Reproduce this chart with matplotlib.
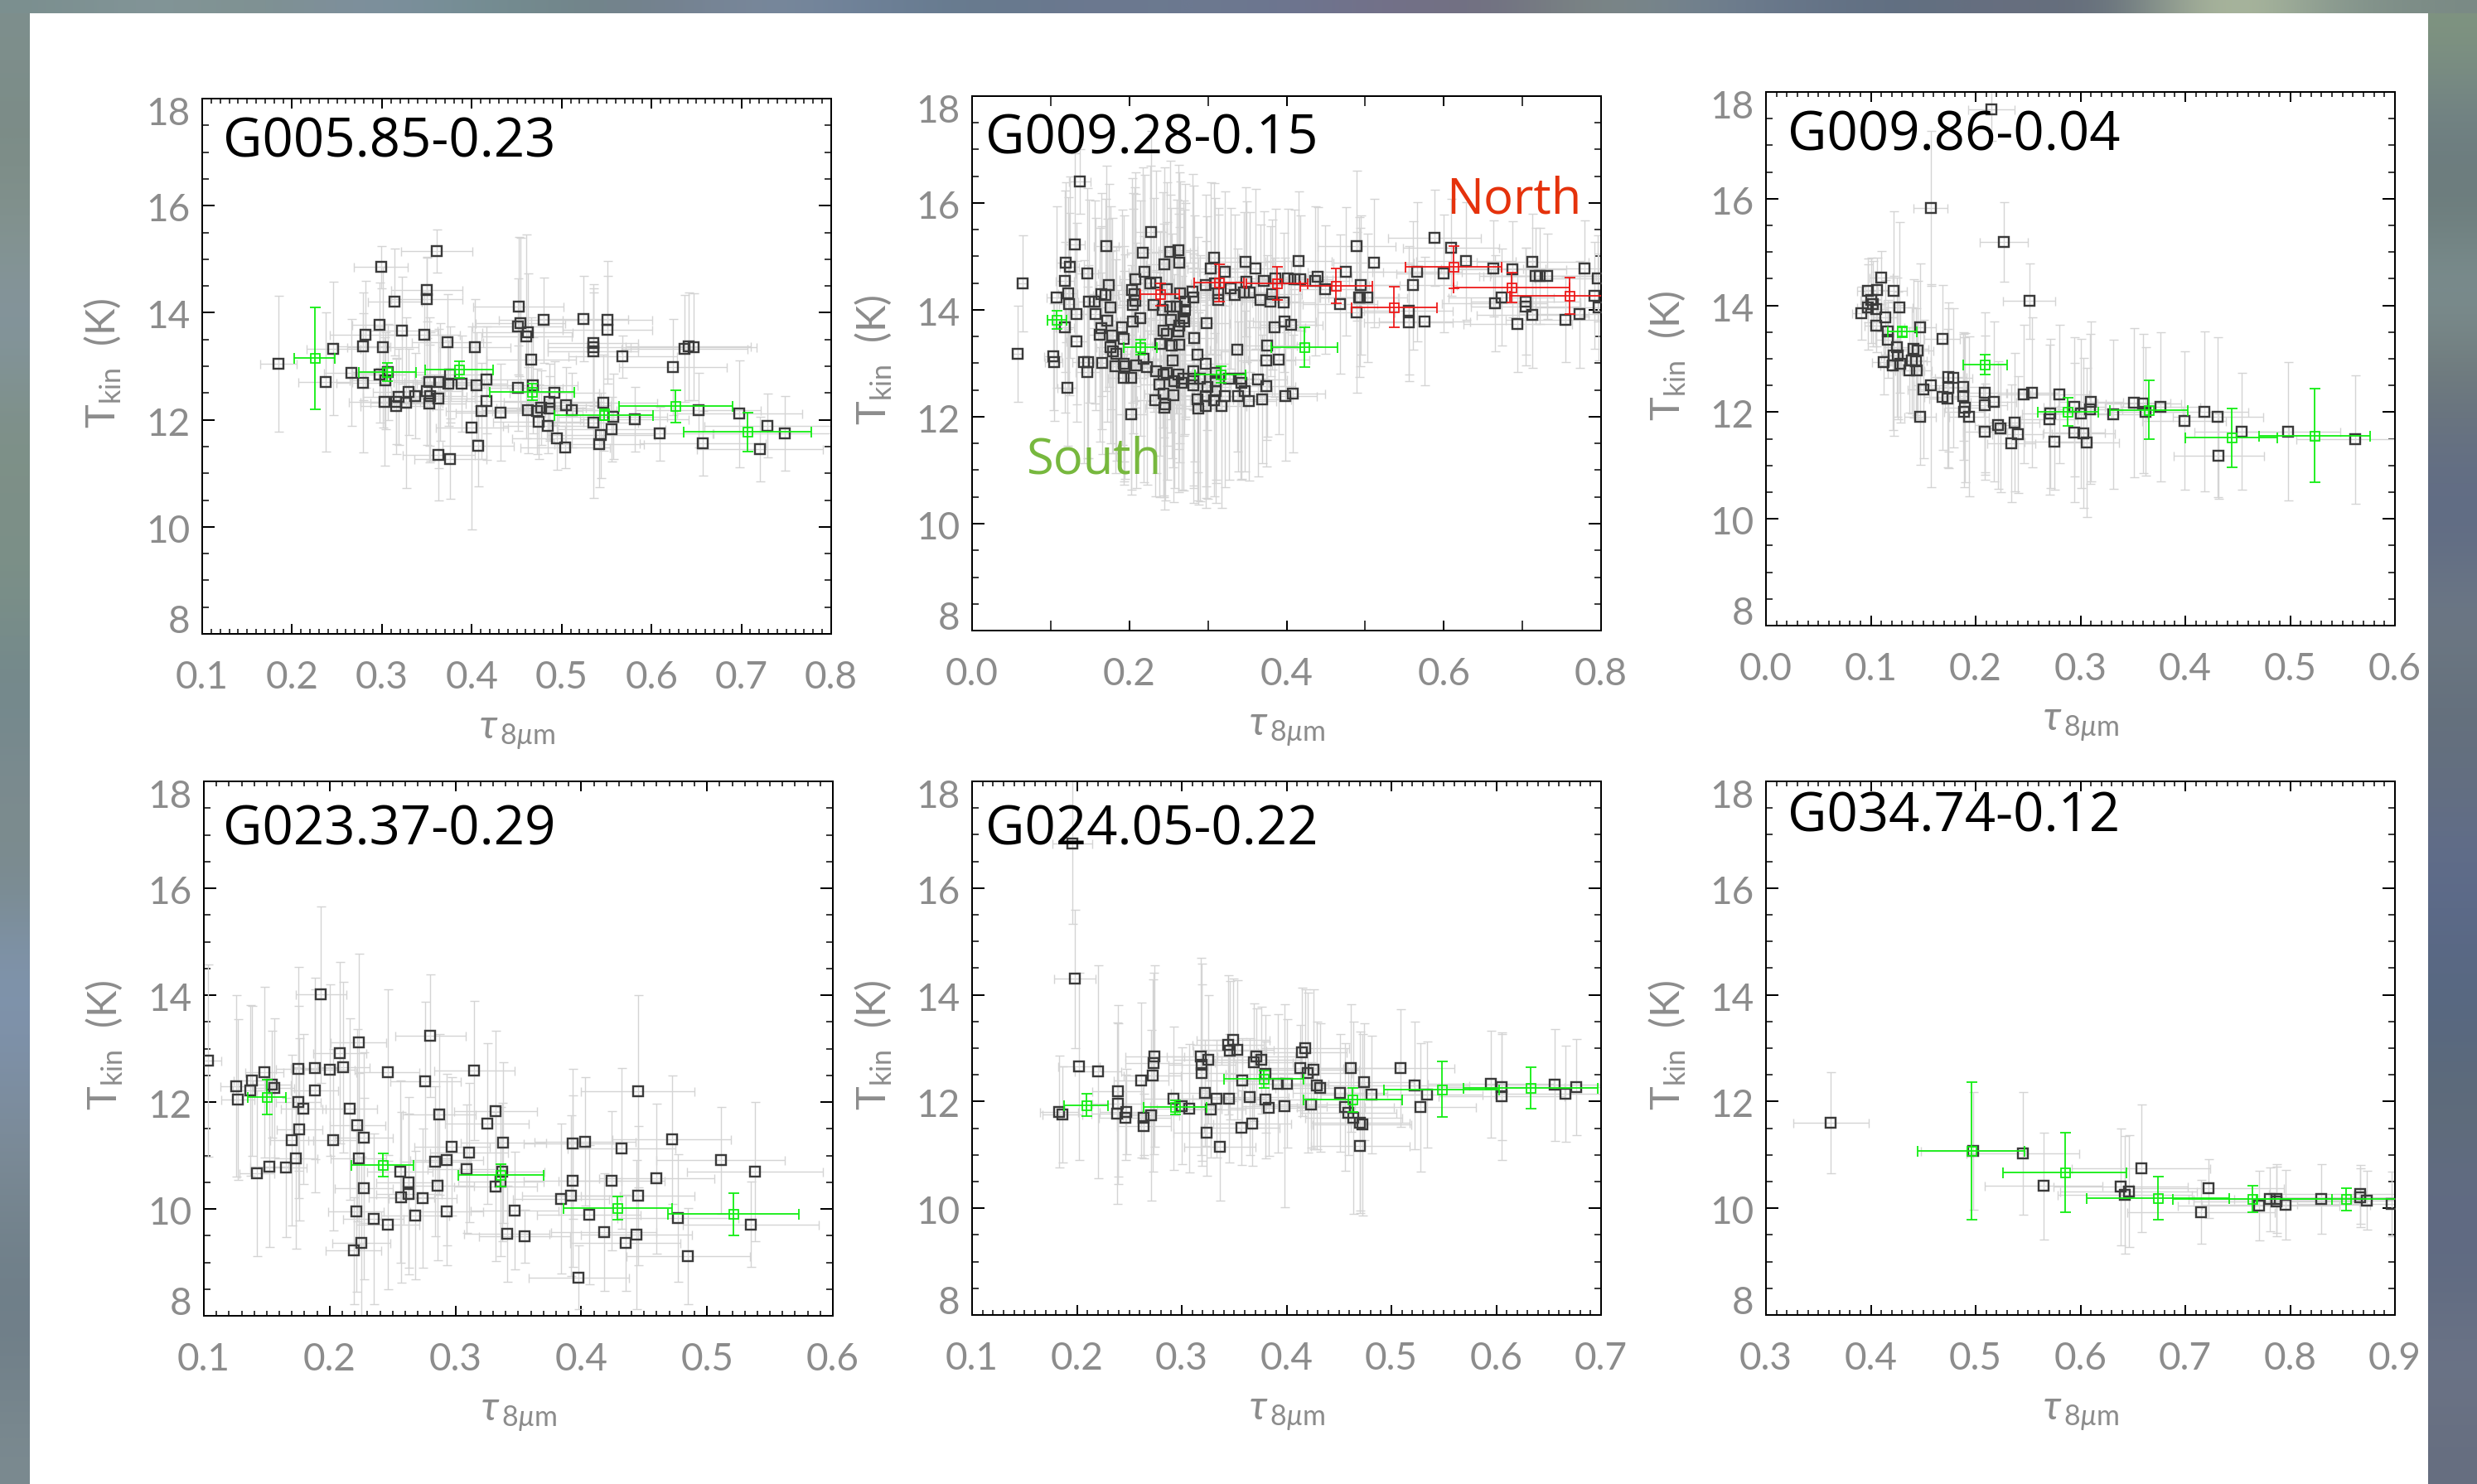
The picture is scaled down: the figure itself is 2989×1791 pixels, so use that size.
import numpy as np
import matplotlib
matplotlib.use('Agg')
import matplotlib.pyplot as plt
from matplotlib.colors import to_rgb
from matplotlib.ticker import AutoMinorLocator, FixedLocator

W, H = 2989, 1791
plt.rcParams['font.family'] = ['Lato', 'DejaVu Sans']
plt.rcParams['font.weight'] = 'normal'
plt.rcParams['mathtext.fontset'] = 'custom'
plt.rcParams['mathtext.rm'] = 'Lato'
plt.rcParams['mathtext.it'] = 'Lato:italic'
plt.rcParams['mathtext.bf'] = 'Lato:bold'
plt.rcParams['mathtext.fallback'] = 'stixsans'

# ---- background colours
bg_left = ['#7e8f8d','#7b8b85','#83938f','#8495a0','#7e9088','#7d9087','#7a8f88','#72878d','#7d8c8f','#7a8a8d','#8095b0','#7d8fa5','#7b8a95','#70808a','#6f7e88','#7b8a90']
bg_right = ['#7f9480','#6f7f85','#6a7a78','#7f9294','#6f7a7a','#646f84','#5f6b85','#6f7a85','#64707c','#646f80','#5f6c8c','#596884','#586880','#5f6c78','#616b85','#5f6a80','#6d7588','#666e80']
bg_top = ['#7b8f8f','#84969a','#7e918f','#7f8fa0','#758f95','#728689','#74808f','#7a8a9e','#6c7f97','#667a8c','#6c7890','#6c7a90','#6c7590','#757088','#6f6f80','#7f8a85','#708090','#667488','#5f6e80','#6a7080','#5f6a78','#bcc8a5','#8a9a90','#7a8a85']

# ---- G005.85-0.23
p1_x = [.185,.237,.246,.266,.279,.279,.282,.297,.299,.301,.297,.303,.304,.307,.314,.322,.319,.316,.316,.327,.330,.337,.347,.350,.350,.350,.353,.354,.353,.361,.363,.365,.363,.373,.374,.376,.376,.389,.403,.405,.400,.407,.411,.416,.416,.432,.452,.451,.454,.451,.462,.461,.466,.468,.462,.473,.474,.480,.477,.486,.486,.485,.492,.495,.504,.505,.511,.524,.535,.535,.535,.535,.542,.544,.546,.551,.551,.556,.557,.568,.581,.609,.624,.637,.641,.647,.652,.657,.698,.721,.729,.748]
p1_y = [13.04,12.70,13.33,12.88,13.37,12.69,13.59,13.77,14.85,13.36,12.84,12.34,12.73,12.89,14.20,13.67,12.43,12.34,12.26,12.32,12.52,12.45,13.59,14.43,14.25,12.53,12.71,12.44,12.31,15.15,12.39,12.70,11.34,13.45,12.68,12.85,11.27,12.67,13.35,12.64,11.85,11.51,12.16,12.35,12.75,12.14,14.12,12.59,13.80,13.74,13.63,13.56,13.12,12.64,12.18,12.16,11.96,13.86,12.23,12.34,12.21,11.88,12.50,11.66,11.49,12.28,12.18,13.89,13.44,13.36,13.28,11.94,11.54,11.71,12.32,13.87,13.68,11.82,12.06,13.18,12.01,11.74,12.98,13.33,13.37,13.36,12.18,11.56,12.11,11.45,11.89,11.75]
p1_xe = [.02,.03,.03,.03,.03,.03,.04,.03,.03,.04,.03,.04,.04,.04,.03,.04,.04,.04,.04,.04,.04,.04,.04,.04,.04,.04,.04,.04,.04,.04,.04,.04,.04,.04,.04,.04,.04,.05,.04,.05,.04,.04,.04,.05,.05,.05,.05,.05,.05,.05,.05,.05,.05,.05,.05,.05,.05,.05,.05,.05,.05,.05,.05,.05,.05,.05,.05,.05,.05,.05,.05,.05,.05,.06,.06,.05,.05,.06,.06,.06,.06,.06,.06,.07,.07,.07,.07,.07,.07,.07,.07,.08]
p1_ye = [1.27,1.3,1.25,1.0,1.0,1.3,1.0,.8,.4,1.5,.9,1.2,.9,.9,1.0,1.0,.9,.8,.9,1.6,.8,.8,.8,.6,.8,1.0,1.2,1.2,1.1,.4,1.3,1.1,.85,.9,.8,.9,.75,.9,.9,1.0,1.9,.75,.9,1.1,1.0,.9,1.3,.8,1.6,.9,1.1,1.9,.8,.9,.8,.8,.7,.8,.7,.7,.6,.5,.6,.6,.4,.7,.7,.8,1.1,1.1,1.1,1.4,.8,.8,.9,1.1,1.0,.6,.8,.4,.6,.5,.9,1.0,1.0,1.0,.7,.6,1.0,.6,.6,.7]
p1_bx = [.225,.306,.386,.467,.547,.627,.707]
p1_by = [13.15,12.89,12.94,12.52,12.09,12.25,11.77]
p1_bxe = [.023,.032,.038,.047,.055,.063,.071]
p1_bye = [.95,.17,.16,.15,.10,.30,.37]

# ---- G009.28-0.15
p2_x = [.228,.131,.171,.217,.252,.262,.119,.124,.146,.245,.263,.219,.118,.174,.208,.122,.107,.123,.164,.170,.149,.156,.176,.133,.157,.203,.207,.204,.208,.227,.234,.248,.231,.242,.252,.260,.271,.265,.280,.281,.271,.253,.269,.270,.263,.214,.204,.172,.191,.118,.164,.162,.178,.193,.133,.243,.248,.262,.298,.283,.239,.254,.263,.176,.179,.183,.103,.104,.142,.148,.147,.166,.182,.193,.194,.209,.222,.218,.255,.287,.297,.337,.375,.374,.390,.193,.202,.121,.202,.234,.243,.248,.238,.262,.269,.281,.281,.281,.299,.310,.310,.290,.243,.256,.233,.246,.245,.287,.297,.288,.297,.308,.321,.317,.341,.343,.364,.374,.347,.338,.352,.369,.398,.408,.327,.310,.257,.267,.385,.397,.406,.308,.304,.321,.348,.361,.415,.297,.309,.329,.334,.313,.313,.349,.346,.353,.371,.367,.379,.382,.386,.396,.402,.410,.417,.436,.439,.449,.475,.468,.489,.489,.492,.511,.494,.493,.503,.566,.561,.555,.555,.575,.588,.609,.628,.600,.663,.687,.713,.665,.673,.704,.704,.713,.694,.717,.722,.732,.779,.792,.796,.797,.755,.773,.137,.064,.058]
p2_y = [15.45,15.23,15.19,15.07,15.09,15.12,14.89,14.80,14.68,14.86,14.88,14.72,14.54,14.46,14.58,14.31,14.24,14.11,14.29,14.28,14.16,14.15,14.04,13.93,13.92,14.37,14.30,14.09,14.17,14.49,14.51,14.39,14.09,14.00,14.06,14.06,14.16,14.31,14.34,14.23,14.00,13.81,13.85,13.78,13.70,13.84,13.79,13.80,13.68,13.67,13.66,13.53,13.52,13.46,13.41,13.61,13.55,13.60,13.75,13.47,13.37,13.33,13.35,13.30,13.22,13.18,13.13,13.02,13.03,13.03,12.83,13.00,12.95,12.99,12.94,12.96,12.93,13.08,13.06,13.16,12.99,13.25,13.33,13.06,13.07,12.73,12.73,12.55,12.04,12.85,12.79,12.82,12.60,12.79,12.72,12.86,12.72,12.59,12.56,12.82,12.48,12.72,12.43,12.41,12.31,12.24,12.17,12.33,12.38,12.16,12.20,12.31,12.38,12.20,12.72,12.64,12.69,12.57,12.48,12.38,12.30,12.33,12.38,12.43,12.72,12.66,12.66,12.64,13.67,13.78,13.72,14.97,14.78,14.72,14.90,14.77,14.91,14.46,14.49,14.40,14.28,14.31,14.19,14.53,14.33,14.33,14.54,14.19,14.16,14.29,14.59,14.14,14.59,14.58,14.57,14.54,14.62,14.38,14.72,14.11,13.95,15.20,14.24,14.88,14.46,14.24,14.23,14.71,14.46,13.99,13.76,13.79,15.35,15.17,14.92,14.68,14.78,14.76,14.90,14.12,14.24,14.16,14.06,13.91,13.73,14.63,14.64,14.63,14.78,14.27,14.59,14.05,13.82,13.92,16.40,14.50,13.18]
p2_xe = [.02,.012,.016,.02,.025,.025,.012,.012,.014,.024,.025,.02,.012,.016,.02,.012,.012,.012,.016,.016,.014,.015,.018,.013,.016,.02,.02,.02,.02,.02,.022,.025,.022,.024,.025,.026,.027,.026,.028,.028,.027,.025,.027,.027,.026,.02,.02,.017,.02,.012,.016,.016,.018,.02,.013,.024,.025,.026,.03,.028,.024,.025,.026,.018,.018,.018,.011,.011,.014,.015,.015,.017,.018,.02,.02,.02,.022,.022,.025,.029,.03,.034,.038,.037,.039,.02,.02,.012,.02,.023,.024,.025,.024,.026,.027,.028,.028,.028,.03,.031,.031,.029,.024,.026,.023,.025,.025,.029,.03,.029,.03,.031,.032,.032,.034,.034,.036,.037,.035,.034,.035,.037,.04,.041,.033,.031,.026,.027,.039,.04,.04,.031,.03,.032,.035,.036,.042,.03,.031,.033,.033,.031,.031,.035,.035,.035,.037,.037,.038,.038,.039,.04,.04,.041,.042,.044,.044,.045,.048,.047,.049,.05,.05,.051,.05,.05,.05,.057,.056,.056,.056,.058,.059,.061,.063,.06,.066,.069,.071,.067,.067,.07,.07,.071,.069,.072,.072,.073,.078,.079,.08,.08,.076,.077,.014,.006,.006]
p2_ye = [1.9,1.7,1.5,1.6,1.7,1.6,1.5,1.7,1.6,1.8,1.7,1.8,1.7,1.9,2.0,1.8,1.7,1.7,1.9,1.8,1.9,1.9,1.9,1.7,1.8,2.1,2.0,2.1,2.0,2.2,2.1,2.0,2.0,2.2,2.1,2.0,2.2,2.1,2.2,2.1,2.0,2.1,2.2,2.1,2.2,2.2,2.1,1.9,2.2,1.6,1.9,2.0,2.2,2.3,1.5,2.0,2.1,2.2,2.0,2.3,2.1,2.1,2.2,1.8,1.9,2.0,1.0,1.1,1.9,1.8,1.6,1.7,2.0,2.2,2.1,2.3,2.2,2.3,2.0,2.2,2.3,1.9,1.7,1.5,1.4,2.0,2.1,1.1,1.5,1.9,2.3,2.0,2.1,2.2,2.1,2.2,2.0,2.2,2.1,2.0,2.1,2.3,1.9,2.0,1.8,1.8,1.9,1.9,1.9,1.8,1.9,1.8,1.7,1.9,1.9,1.8,1.8,1.5,1.5,1.4,1.5,1.2,1.2,1.1,1.9,1.9,2.0,2.0,1.3,1.2,1.2,1.4,1.6,1.5,1.4,1.5,1.3,1.7,1.6,1.5,1.5,1.6,1.6,1.5,1.5,1.5,1.3,1.4,1.4,1.4,1.3,1.3,1.3,1.3,1.2,1.4,1.3,1.2,1.2,1.3,1.5,1.4,1.5,1.2,1.3,1.3,1.2,1.3,1.2,1.2,1.1,1.2,.9,.9,1.1,1.1,.9,.9,.9,.9,.9,1.0,1.1,1.0,.9,.9,.9,.8,.9,1.0,.8,1.0,.8,1.0,.6,.9,.9]
p2_gx = [.108,.214,.316,.423]
p2_gy = [13.82,13.30,12.79,13.30]
p2_gxe = [.012,.0215,.032,.042]
p2_gye = [.17,.14,.15,.37]
p2_rx = [.239,.314,.388,.463,.537,.612,.686,.760]
p2_ry = [14.29,14.51,14.49,14.45,14.05,14.80,14.42,14.27]
p2_rxe = [.025,.032,.039,.046,.054,.061,.074,.076]
p2_rye = [.21,.35,.31,.33,.38,.40,.28,.34]

# ---- G009.86-0.04
p3_x = [.215,.157,.227,.251,.110,.097,.106,.122,.100,.102,.097,.105,.127,.091,.114,.105,.116,.116,.147,.168,.125,.141,.145,.112,.122,.126,.121,.128,.139,.143,.137,.144,.174,.179,.174,.188,.188,.150,.157,.168,.173,.209,.209,.217,.190,.189,.194,.147,.209,.221,.224,.237,.240,.234,.246,.254,.280,.271,.270,.275,.294,.300,.294,.303,.306,.310,.309,.331,.351,.360,.362,.376,.399,.418,.431,.432,.454,.498,.562]
p3_y = [17.68,15.82,15.19,14.08,14.52,14.28,14.29,14.27,14.10,14.03,13.97,13.93,13.96,13.85,13.78,13.62,13.51,13.35,13.59,13.38,13.22,13.19,13.16,12.94,13.06,13.06,12.87,12.91,12.97,12.95,12.79,12.79,12.66,12.64,12.45,12.47,12.30,12.43,12.50,12.29,12.26,12.37,12.13,12.20,12.08,12.00,11.92,11.91,11.63,11.76,11.70,11.81,11.58,11.42,12.34,12.37,12.34,11.98,11.86,11.44,12.10,11.97,11.62,11.61,11.43,12.20,12.06,11.96,12.18,12.16,12.01,12.10,11.84,12.01,11.91,11.18,11.64,11.64,11.49]
p3_xe = [.022,.016,.023,.025,.011,.01,.011,.012,.01,.01,.01,.011,.013,.009,.011,.011,.012,.012,.015,.017,.013,.014,.015,.011,.012,.013,.012,.013,.014,.014,.014,.014,.017,.018,.017,.019,.019,.015,.016,.017,.017,.021,.021,.022,.019,.019,.019,.015,.021,.022,.022,.024,.024,.023,.025,.025,.028,.027,.027,.028,.029,.03,.029,.03,.031,.031,.031,.033,.035,.036,.036,.038,.04,.042,.043,.043,.045,.05,.056]
p3_ye = [.6,1.45,.75,.7,.5,.6,.6,1.5,.8,.8,.8,.7,1.6,.5,.7,.5,.6,.7,1.2,1.0,1.3,1.3,1.3,.6,1.5,1.2,1.2,1.1,1.0,1.0,.8,.9,1.4,1.3,1.5,1.0,1.2,1.3,1.9,1.0,1.3,1.5,1.3,1.5,1.4,1.4,1.5,.9,.9,1.2,1.2,1.3,1.1,1.1,1.3,1.4,1.3,1.4,1.4,.9,1.3,1.4,1.3,1.4,1.4,1.5,1.4,1.4,1.4,1.3,1.2,1.4,1.3,1.5,1.5,.8,1.1,1.3,1.2]
p3_bx = [.130,.209,.288,.365,.444,.523]
p3_by = [13.51,12.89,12.01,12.04,11.52,11.56]
p3_bxe = [.0137,.021,.029,.037,.044,.053]
p3_bye = [.10,.18,.26,.55,.55,.88]

# ---- G023.37-0.29
p4_x = [.103,.126,.127,.138,.137,.148,.154,.156,.142,.152,.165,.170,.173,.176,.175,.175,.179,.188,.188,.193,.200,.203,.208,.211,.216,.222,.223,.227,.223,.221,.219,.225,.227,.235,.246,.246,.256,.257,.263,.263,.268,.274,.276,.280,.284,.287,.286,.293,.293,.297,.309,.311,.315,.325,.332,.332,.337,.336,.338,.341,.347,.355,.384,.392,.393,.393,.398,.403,.406,.418,.424,.432,.435,.444,.445,.445,.460,.472,.477,.485,.511,.535,.538]
p4_y = [12.77,12.30,12.05,12.40,12.22,12.56,12.33,12.26,10.66,10.79,10.78,11.29,10.95,11.49,12.62,12.00,11.87,12.63,12.21,14.01,12.60,11.29,12.92,12.65,11.87,11.57,13.12,11.33,10.94,9.95,9.22,9.37,10.38,9.81,9.70,12.56,10.70,10.22,10.50,10.28,9.88,10.20,12.38,13.24,10.89,11.77,10.44,10.92,9.95,11.17,10.75,11.05,12.59,11.60,11.83,10.42,10.69,10.51,11.24,9.53,9.97,9.49,10.19,10.25,11.22,10.52,8.72,11.26,9.89,9.56,10.53,11.13,9.37,9.52,10.25,12.20,10.57,11.30,9.83,9.11,10.91,9.71,10.70]
p4_xe = [.011,.013,.013,.014,.014,.015,.015,.016,.014,.015,.017,.017,.017,.018,.018,.018,.018,.019,.019,.02,.02,.02,.021,.021,.022,.022,.022,.023,.022,.022,.022,.023,.023,.024,.025,.025,.026,.026,.026,.026,.027,.027,.028,.028,.028,.029,.029,.029,.029,.03,.031,.031,.032,.033,.033,.033,.034,.034,.034,.034,.035,.036,.038,.039,.039,.039,.04,.04,.041,.042,.042,.043,.044,.044,.045,.045,.046,.047,.048,.049,.051,.054,.054]
p4_ye = [1.8,1.7,1.5,1.4,1.6,1.6,1.0,1.3,1.55,1.5,1.3,1.6,1.7,1.7,1.9,1.8,1.4,1.7,1.9,1.65,1.6,1.7,1.7,1.6,1.7,1.8,1.65,1.6,1.6,1.5,1.0,1.6,1.7,1.6,1.2,1.55,1.7,1.6,1.6,1.5,1.2,1.3,1.5,1.15,1.4,1.5,1.4,1.6,1.0,1.3,1.2,1.3,1.3,1.5,1.5,1.4,1.3,1.4,1.5,.9,1.1,.5,1.4,1.5,1.4,1.6,.6,1.2,1.3,1.1,1.3,1.5,.9,1.4,1.3,1.8,1.4,1.2,1.2,.9,1.0,.8,1.3]
p4_bx = [.150,.242,.336,.429,.521]
p4_by = [12.09,10.82,10.63,10.02,9.90]
p4_bxe = [.015,.0245,.034,.043,.052]
p4_bye = [.33,.22,.21,.22,.40]

# ---- G024.05-0.22
p5_x = [.196,.198,.202,.220,.183,.186,.239,.239,.238,.247,.246,.261,.264,.264,.271,.273,.274,.272,.292,.300,.307,.318,.319,.319,.322,.325,.324,.328,.333,.336,.344,.346,.349,.353,.345,.358,.357,.365,.367,.369,.371,.376,.380,.380,.383,.392,.400,.398,.413,.415,.418,.420,.426,.423,.429,.432,.451,.456,.459,.461,.464,.470,.472,.470,.474,.481,.509,.522,.528,.534,.595,.605,.605,.656,.666,.676]
p5_y = [16.83,14.30,12.66,12.56,11.81,11.76,12.20,11.96,11.78,11.81,11.70,12.40,11.70,11.54,11.74,12.72,12.85,12.49,12.06,11.92,11.87,12.85,12.69,12.54,12.16,12.79,11.41,11.85,12.05,11.15,13.06,12.96,13.15,12.97,12.06,12.39,11.51,12.09,11.59,12.74,12.85,12.78,12.52,12.03,11.88,12.34,12.34,11.92,12.63,12.93,13.00,12.54,12.60,11.94,12.30,12.26,12.16,11.90,11.79,12.63,11.70,11.61,11.57,11.16,12.37,12.13,12.63,12.30,11.89,12.13,12.33,12.27,12.10,12.31,12.14,12.27]
p5_xe = [.019,.02,.02,.022,.018,.019,.024,.024,.024,.025,.025,.026,.026,.026,.027,.027,.028,.027,.029,.03,.031,.032,.032,.032,.032,.033,.032,.033,.033,.034,.034,.035,.035,.035,.035,.036,.036,.037,.037,.037,.037,.038,.038,.038,.038,.039,.04,.04,.041,.042,.042,.042,.043,.042,.043,.043,.045,.046,.046,.046,.046,.047,.047,.047,.047,.048,.051,.052,.053,.053,.06,.06,.06,.066,.067,.068]
p5_ye = [1.5,1.3,1.75,2.0,1.05,.9,1.6,1.5,1.7,.8,.8,1.45,.7,.6,1.6,1.7,1.7,1.8,1.35,1.1,1.2,1.85,1.9,1.65,1.0,1.2,.8,.9,1.1,1.0,1.3,1.3,1.15,1.3,1.2,.8,.7,1.1,.8,1.1,.9,1.0,1.1,1.1,.9,1.3,1.2,1.9,.8,1.2,1.1,1.5,1.5,.8,1.2,1.2,1.1,1.2,.8,1.2,1.8,1.7,1.7,1.2,1.1,1.1,1.1,1.2,1.2,1.0,1.0,1.0,1.2,1.05,.9,.9]
p5_bx = [.209,.294,.378,.463,.548,.633]
p5_by = [11.93,11.89,12.42,12.03,12.23,12.25]
p5_bxe = [.021,.030,.038,.047,.055,.064]
p5_bye = [.21,.13,.16,.23,.52,.39]

# ---- G034.74-0.12
p6_x = [.362,.498,.545,.565,.638,.642,.646,.658,.715,.722,.770,.781,.787,.787,.796,.830,.867,.867,.873,.897]
p6_y = [11.60,11.07,11.03,10.42,10.40,10.25,10.32,10.75,9.93,10.37,10.05,10.17,10.18,10.13,10.07,10.17,10.26,10.20,10.15,10.08]
p6_xe = [.036,.05,.054,.056,.064,.064,.065,.066,.07,.072,.077,.078,.079,.079,.08,.083,.087,.087,.087,.09]
p6_ye = [.95,1.1,1.15,1.0,1.1,1.1,1.05,1.2,.6,.55,.65,.6,.65,.65,.65,.65,.55,.55,.55,.6]
p6_bx = [.496,.585,.674,.764,.853]
p6_by = [11.07,10.67,10.19,10.17,10.17]
p6_bxe = [.051,.059,.068,.076,.085]
p6_bye = [1.29,.74,.41,.25,.21]

names = ['G005.85-0.23','G009.28-0.15','G009.86-0.04','G023.37-0.29','G024.05-0.22','G034.74-0.12']
xtick_sets = [[.1,.2,.3,.4,.5,.6,.7,.8],[0,.2,.4,.6,.8],[0,.1,.2,.3,.4,.5,.6],[.1,.2,.3,.4,.5,.6],[.1,.2,.3,.4,.5,.6,.7],[.3,.4,.5,.6,.7,.8,.9]]
ytick_vals = [8,10,12,14,16,18]
# frame (left, right, top, bottom) and title offset, in reference pixels
frames = [(244,1003,119,765),(1173,1932,116,761),(2131,2890,111,755),(246,1005,943,1588),(1173,1932,943,1587),(2131,2890,943,1587)]
title_off = [(25,54),(16,52),(26,54),(23,60),(16,60),(26,44)]
series = [(p1_x,p1_y,p1_xe,p1_ye),(p2_x,p2_y,p2_xe,p2_ye),(p3_x,p3_y,p3_xe,p3_ye),(p4_x,p4_y,p4_xe,p4_ye),(p5_x,p5_y,p5_xe,p5_ye),(p6_x,p6_y,p6_xe,p6_ye)]
bins = [[(p1_bx,p1_by,p1_bxe,p1_bye,'#12ee12')],[(p2_gx,p2_gy,p2_gxe,p2_gye,'#12ee12'),(p2_rx,p2_ry,p2_rxe,p2_rye,'#ee1a1a')],[(p3_bx,p3_by,p3_bxe,p3_bye,'#12ee12')],[(p4_bx,p4_by,p4_bxe,p4_bye,'#12ee12')],[(p5_bx,p5_by,p5_bxe,p5_bye,'#12ee12')],[(p6_bx,p6_by,p6_bxe,p6_bye,'#12ee12')]]

px = 0.72  # points per pixel at dpi 100
fig = plt.figure(figsize=(W/100, H/100), dpi=100, facecolor='white')

bgax = fig.add_axes([0, 0, 1, 1], zorder=-5)
bgax.set_xlim(0, W); bgax.set_ylim(H, 0); bgax.axis('off')
def rgb(lst):
    return np.array([to_rgb(c) for c in lst])
bgax.imshow(rgb(bg_left)[:, None, :], extent=(0, 36, H, 0), aspect='auto', interpolation='bicubic')
bgax.imshow(rgb(bg_right)[:, None, :], extent=(2930, W, H, 0), aspect='auto', interpolation='bicubic')
bgax.imshow(rgb(bg_top)[None, :, :], extent=(0, W, 16, 0), aspect='auto', interpolation='bicubic')
bgax.set_xlim(0, W); bgax.set_ylim(H, 0)

GREY = '#8c8c8c'
for i in range(6):
    l, r, t, b = frames[i]
    ax = fig.add_axes([l/W, 1-b/H, (r-l)/W, (b-t)/H])
    ax.patch.set_alpha(0)
    xt = xtick_sets[i]
    ax.set_xlim(xt[0], xt[-1]); ax.set_ylim(8, 18)
    x, y, xe, ye = series[i]
    ax.errorbar(x, y, xerr=xe, yerr=ye, fmt='none', ecolor='#d4d4d4', elinewidth=1.4*px, capsize=5.5*px, capthick=1.4*px, zorder=2)
    ax.plot(x, y, ls='none', marker='s', ms=12*px, mfc='none', mec='#3a3a3a', mew=2.4*px, zorder=3)
    for bx, by, bxe, bye, col in bins[i]:
        lw = 1.8*px
        ax.errorbar(bx, by, xerr=bxe, yerr=bye, fmt='none', ecolor=col, elinewidth=lw, capsize=6.5*px, capthick=lw, zorder=4)
        ax.plot(bx, by, ls='none', marker='s', ms=11*px, mfc='none', mec=col, mew=lw, zorder=5)
    ax.xaxis.set_major_locator(FixedLocator(xt))
    ax.yaxis.set_major_locator(FixedLocator(ytick_vals))
    ax.xaxis.set_minor_locator(AutoMinorLocator(2 if i == 1 else 10))
    ax.yaxis.set_minor_locator(AutoMinorLocator(4))
    ax.tick_params(axis='x', which='major', direction='in', top=True, bottom=True, length=12*px, width=2*px, labelbottom=False)
    ax.tick_params(axis='y', which='major', direction='in', left=True, right=True, length=15*px, width=2*px, labelleft=False)
    ax.tick_params(axis='x', which='minor', direction='in', top=True, bottom=True, length=(12 if i == 1 else 6)*px, width=1.5*px)
    ax.tick_params(axis='y', which='minor', direction='in', left=True, right=True, length=8*px, width=1.5*px)
    for s in ax.spines.values():
        s.set_linewidth(2*px); s.set_color('black')
    for v in xt:
        ax.annotate(f'{v:.1f}', xy=(v, 0), xycoords=ax.get_xaxis_transform(), xytext=(0, -53), textcoords='offset pixels',
                    ha='center', va='center', fontsize=33, color=GREY, annotation_clip=False)
    for v in ytick_vals:
        dy = {18: -19, 8: 14}.get(v, -6)
        ax.annotate(str(v), xy=(0, v), xycoords=ax.get_yaxis_transform(), xytext=(-15, dy), textcoords='offset pixels',
                    ha='right', va='center', fontsize=33, color=GREY, annotation_clip=False)
    ax.annotate(r'$\mathrm{T}_{\mathrm{kin}}$  (K)', xy=(0, .5), xycoords='axes fraction', xytext=(-120, 4), textcoords='offset pixels',
                rotation=90, ha='center', va='center', fontsize=35, color=GREY, annotation_clip=False)
    ax.annotate(r'$\tau_{\,8\mu\mathrm{m}}$', xy=(.5, 0), xycoords='axes fraction', xytext=(0, -120), textcoords='offset pixels',
                ha='center', va='center', fontsize=35, color=GREY, annotation_clip=False)
    dx, dy = title_off[i]
    fig.text((l+dx)/W, 1-(t+dy)/H, names[i], ha='left', va='center', fontsize=47, color='black', family='Open Sans', weight='normal', zorder=6)

fig.text(1745/W, 1-242/H, 'North', ha='left', va='center', fontsize=43, color='#e5320c', family='Open Sans', weight='normal', zorder=6)
fig.text(1239/W, 1-556/H, 'South', ha='left', va='center', fontsize=43, color='#77b83e', family='Open Sans', weight='normal', zorder=6)

fig.savefig('out.png', dpi=100, facecolor='white')
